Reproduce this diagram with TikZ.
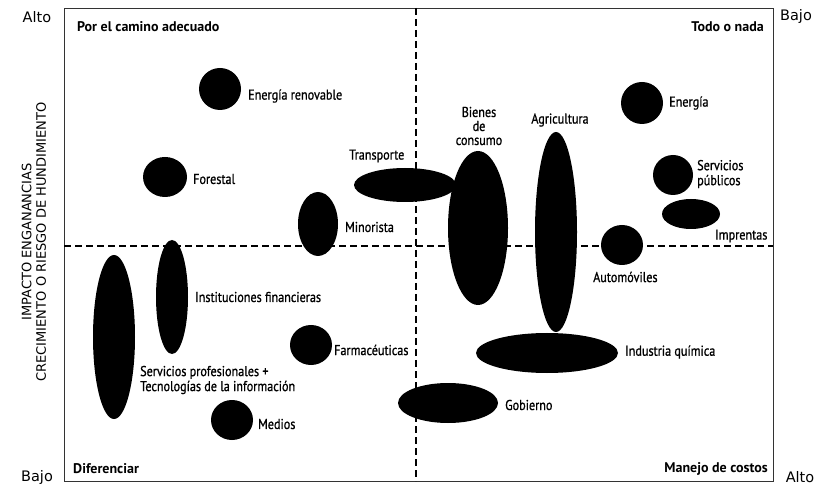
\documentclass[tikz,border=0pt]{standalone}
\usepackage{fontspec}
\setmainfont{PT Sans}[FakeStretch=0.85,FakeBold=0.9]
\newfontfamily\boldfont{PT Sans Bold}
\newfontfamily\widefont{DejaVu Sans}
\usetikzlibrary{shapes.geometric}
\begin{document}
\begin{tikzpicture}[x=1pt,y=-1pt,
  blob/.style={ellipse, fill=black, draw=none, inner sep=0pt},
  lbl/.style={font=\fontsize{14.3}{15}\selectfont, inner sep=0pt, anchor=west, align=left},
  ctr/.style={font=\fontsize{14.3}{14}\selectfont, inner sep=0pt, align=center},
  corner/.style={font=\boldfont\fontsize{14}{15}\selectfont, inner sep=0pt},
  outer/.style={font=\widefont\fontsize{14.5}{15}\selectfont, inner sep=0pt},
  axisline/.style={black, line width=1.6pt, dash pattern=on 7pt off 4pt},
  frame/.style={draw=black!80, line width=1.4pt}]
\useasboundingbox (0,0) rectangle (814,486);
\fill[white] (0,0) rectangle (814,486);
% frame and axes
\node[frame, inner sep=0pt, minimum width=709pt, minimum height=473pt, anchor=north west] (box) at (64,8) {};
\coordinate (vt) at (416,8);
\coordinate (vb) at (416,481);
\coordinate (hl) at (64,246);
\coordinate (hr) at (773,246);
\draw[axisline] (vt) -- (vb);
\draw[axisline] (hl) -- (hr);
% ellipses
\node[blob, minimum width=42pt, minimum height=42pt] (energiaren) at (220,89) {};
\node[blob, minimum width=44pt, minimum height=40pt] (forestal) at (165,177) {};
\node[blob, minimum width=40pt, minimum height=64pt] (minorista) at (318,224) {};
\node[blob, minimum width=102pt, minimum height=34pt] (transporte) at (405,185) {};
\node[blob, minimum width=60pt, minimum height=154pt] (bienes) at (478,228) {};
\node[blob, minimum width=42pt, minimum height=200pt] (agricultura) at (556,232) {};
\node[blob, minimum width=42pt, minimum height=42pt] (energia) at (642,103) {};
\node[blob, minimum width=40pt, minimum height=40pt] (servpub) at (673,175) {};
\node[blob, minimum width=58pt, minimum height=30pt] (imprentas) at (691,214) {};
\node[blob, minimum width=42pt, minimum height=40pt] (automoviles) at (622,245) {};
\node[blob, minimum width=142pt, minimum height=40pt] (quimica) at (547,353) {};
\node[blob, minimum width=100pt, minimum height=40pt] (gobierno) at (448,403) {};
\node[blob, minimum width=32pt, minimum height=114pt] (instfin) at (172,297) {};
\node[blob, minimum width=42pt, minimum height=164pt] (servprof) at (114,337) {};
\node[blob, minimum width=42pt, minimum height=40pt] (farma) at (311,345) {};
\node[blob, minimum width=42pt, minimum height=40pt] (medios) at (232,420) {};
% labels
\node[lbl] (lenergiaren) at (248,96) {Energía renovable};
\node[lbl] (lforestal) at (193,179) {Forestal};
\node[lbl] (ltransporte) at (349,156) {Transporte};
\node[lbl] (lminorista) at (345,227) {Minorista};
\node[ctr] (lbienes) at (479,126) {Bienes\\de\\consumo};
\node[ctr] (lagricultura) at (560,120) {Agricultura};
\node[lbl] (lenergia) at (669,103) {Energía};
\node[lbl] (lservpub) at (697,174) {Servicios\\públicos};
\node[lbl] (limprentas) at (715,236) {Imprentas};
\node[lbl] (lautomoviles) at (593,277) {Automóviles};
\node[lbl] (linstfin) at (195,297) {Instituciones financieras};
\node[lbl] (lfarma) at (334,350) {Farmacéuticas};
\node[lbl] (lservprof) at (140,380) {Servicios profesionales +\\Tecnologías de la información};
\node[lbl] (lmedios) at (258,424) {Medios};
\node[lbl] (lgobierno) at (505,405) {Gobierno};
\node[lbl] (lquimica) at (625,352) {Industria química};
% corner titles
\node[corner, anchor=west] (tl) at (77,27) {Por el camino adecuado};
\node[corner, anchor=east] (tr) at (764,27) {Todo o nada};
\node[corner, anchor=west] (bl) at (73,469) {Diferenciar};
\node[corner, anchor=east] (br) at (768,469) {Manejo de costos};
% outer scale labels
\node[outer] (altotl) at (37,17) {Alto};
\node[outer] (bajotr) at (796,17) {Bajo};
\node[outer] (bajobl) at (37,477) {Bajo};
\node[outer] (altobr) at (800,477) {Alto};
% axis title
\node[inner sep=0pt, rotate=90, align=center, font=\widefont\fontsize{13}{14.5}\selectfont] (ytitle) at (34,242) {IMPACTO ENGANANCIAS\\CRECIMIENTO O RIESGO DE HUNDIMIENTO};
\end{tikzpicture}
\end{document}
